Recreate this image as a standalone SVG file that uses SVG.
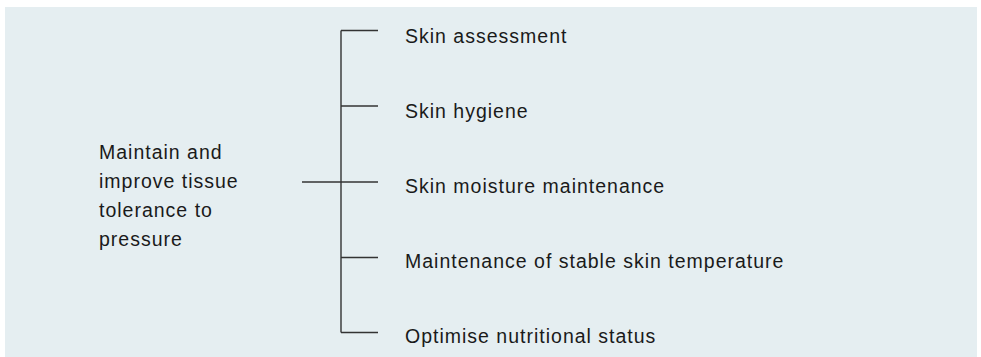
<svg xmlns="http://www.w3.org/2000/svg" width="981" height="357" viewBox="0 0 981 357">
  <style>
    .bg { fill: #e5eef1; }
    .label { font-family: "Liberation Sans", Arial, sans-serif; font-size: 19.5px; letter-spacing: 1px; fill: #1a1a1a; }
    .link { stroke: #333333; stroke-width: 1.4; fill: none; }
  </style>
  <rect class="bg" x="5" y="7" width="972" height="350"/>

  <g id="connectors">
    <line class="link" x1="341" y1="30.5" x2="341" y2="332.5"/>
    <line class="link" x1="302" y1="182" x2="378" y2="182"/>
    <line class="link" x1="341" y1="30.5" x2="378" y2="30.5"/>
    <line class="link" x1="341" y1="106" x2="378" y2="106"/>
    <line class="link" x1="341" y1="257.5" x2="378" y2="257.5"/>
    <line class="link" x1="341" y1="332.5" x2="378" y2="332.5"/>
  </g>

  <g id="root">
    <text class="label" x="99" y="159">Maintain and</text>
    <text class="label" x="99" y="188">improve tissue</text>
    <text class="label" x="99" y="217">tolerance to</text>
    <text class="label" x="99" y="246">pressure</text>
  </g>

  <g id="skin-assessment">
    <text class="label" x="405" y="43">Skin assessment</text>
  </g>
  <g id="skin-hygiene">
    <text class="label" x="405" y="118">Skin hygiene</text>
  </g>
  <g id="skin-moisture">
    <text class="label" x="405" y="193">Skin moisture maintenance</text>
  </g>
  <g id="skin-temperature">
    <text class="label" x="405" y="267.5">Maintenance of stable skin temperature</text>
  </g>
  <g id="nutrition">
    <text class="label" x="405" y="343">Optimise nutritional status</text>
  </g>
</svg>
